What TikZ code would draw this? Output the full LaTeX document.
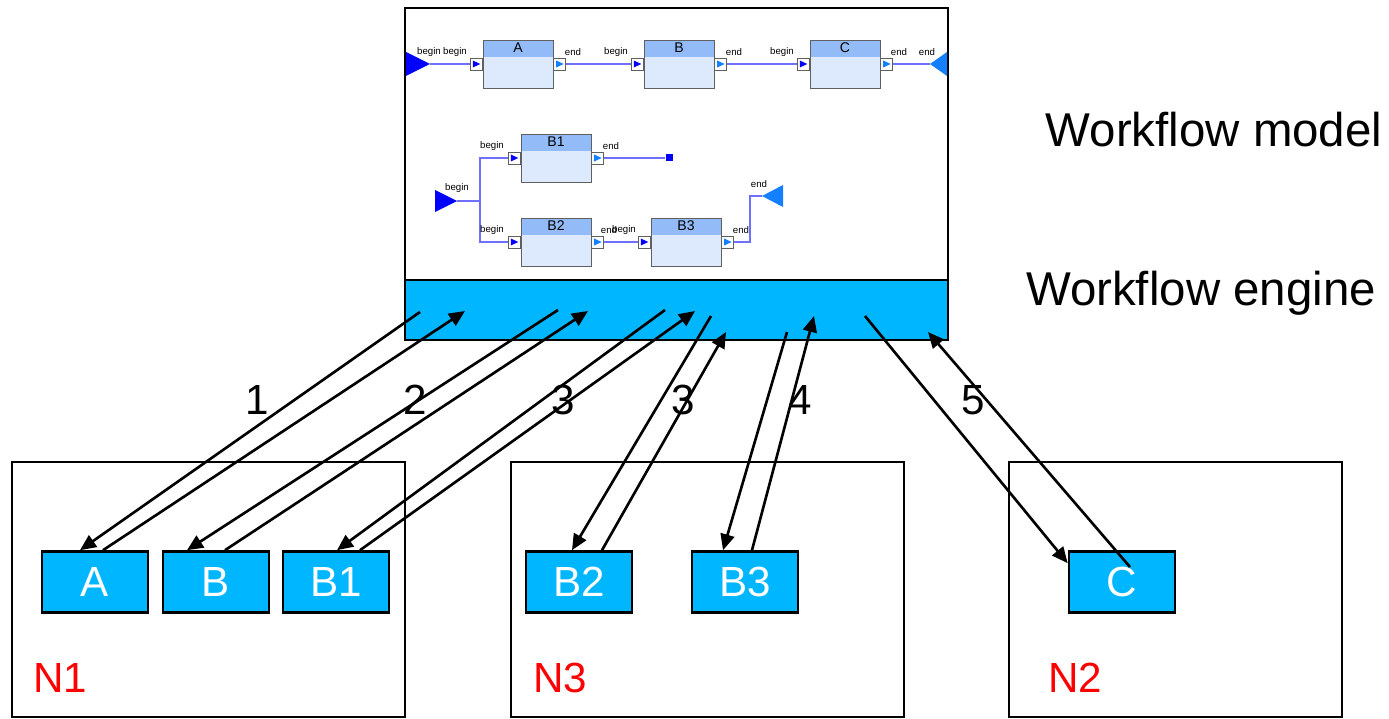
\documentclass[tikz,border=0pt]{standalone}
\usepackage{fontspec}
\setmainfont{Liberation Sans}
\usetikzlibrary{positioning, arrows.meta}

\definecolor{enginecyan}{RGB}{0,183,255}
\definecolor{hdrblue}{RGB}{147,187,247}
\definecolor{bodyblue}{RGB}{221,234,253}
\definecolor{portgray}{RGB}{96,96,96}
\definecolor{inblue}{RGB}{0,0,255}
\definecolor{outblue}{RGB}{20,128,255}
\definecolor{wireblue}{RGB}{112,112,255}

\tikzset{
  wfblock/.style={rectangle, draw=portgray, fill=bodyblue, minimum width=1.4cm,
    minimum height=0.96cm, inner sep=0pt,
    path picture={\fill[hdrblue] (path picture bounding box.north west)
      rectangle ([yshift=-0.34cm]path picture bounding box.north east);}},
  blocklbl/.style={font=\fontsize{8}{9}\selectfont, anchor=north, inner sep=1.6pt},
  inport/.style={rectangle, draw=portgray, fill=white, minimum size=0.24cm, inner sep=0pt,
    path picture={\fill[#1]
      ([xshift=-0.07cm,yshift=0.07cm]path picture bounding box.center) --
      ([xshift=-0.07cm,yshift=-0.07cm]path picture bounding box.center) --
      ([xshift=0.08cm]path picture bounding box.center) -- cycle;}},
  inport/.default=inblue,
  wire/.style={wireblue, line width=0.6pt},
  lbl/.style={font=\fontsize{5.5}{6}\selectfont, inner sep=0pt},
  taskbox/.style={rectangle, draw=black, line width=1.5pt, fill=enginecyan, text=white,
    minimum width=2.12cm, minimum height=1.22cm, font=\fontsize{24}{28}\selectfont},
  nodebox/.style={rectangle, draw=black, line width=1.2pt, minimum height=5.1cm},
  big/.style={font=\fontsize{27}{32}\selectfont},
  num/.style={font=\fontsize{24}{28}\selectfont},
  msg/.style={line width=1.5pt, -{Triangle[length=0.32cm,width=0.28cm]}}
}

\begin{document}
\begin{tikzpicture}[x=0.02cm, y=-0.02cm]
  \useasboundingbox (0,0) rectangle (1389,719);

  % Workflow model and engine
  \node[rectangle, draw=black, line width=1.6pt, minimum width=10.86cm, minimum height=5.44cm,
    inner sep=0pt] (model) at (676.5,144) {};
  \node[rectangle, draw=black, fill=enginecyan, line width=1.6pt, minimum width=10.86cm,
    minimum height=1.2cm, inner sep=0pt] (engine) at (676.5,310) {};

  \node[big] (modeltxt) at (1214,130) {Workflow model};
  \node[big] (enginetxt) at (1201,293) {Workflow engine};

  % first sequence
  \fill[inblue] (406,52) -- (430,64) -- (406,76) -- cycle;
  \coordinate (in1) at (430,64);
  \fill[outblue] (947,52) -- (930,64) -- (947,76) -- cycle;
  \coordinate (out1) at (930,64);

  \foreach \nm/\x/\y in {A/518/64, B/679/64, C/845/64, B1/556/158, B2/556/242, B3/686/242}{
    \node[wfblock, label={[blocklbl]north:\nm}] (\nm) at (\x,\y) {};
    \node[inport, left=0pt of \nm] (\nm-in) {};
    \node[inport=outblue, right=0pt of \nm] (\nm-out) {};
  }

  \draw[wire] (in1) -- (A-in);
  \draw[wire] (A-out) -- (B-in);
  \draw[wire] (B-out) -- (C-in);
  \draw[wire] (C-out) -- (out1);

  % second sequence
  \fill[inblue] (435,190) -- (457,201) -- (435,212) -- cycle;
  \coordinate (in2) at (457,201);
  \coordinate (split) at (480,201);
  \node[rectangle, fill=inblue, minimum size=0.14cm, inner sep=0pt] (stop) at (669,158) {};
  \fill[outblue] (783,185) -- (762,196) -- (783,207) -- cycle;
  \coordinate (out2) at (762,196);
  \coordinate (turn) at (750,196);

  \draw[wire] (in2) -- (split) |- (B1-in);
  \draw[wire] (split) |- (B2-in);
  \draw[wire] (B1-out) -- (stop);
  \draw[wire] (B2-out) -- (B3-in);
  \draw[wire] (B3-out) -| (turn) -- (out2);

  \foreach \x/\y/\t [count=\i] in {429/52/begin, 455/52/begin, 573/52/end, 616/52/begin,
      734/52/end, 782/52/begin, 899/52/end, 927/52/end, 492/146/begin, 611/146/end,
      457/188/begin, 492/230/begin, 609/230/end, 624/230/begin, 741/230/end, 759/184/end}
    \node[lbl] (lbl\i) at (\x,\y) {\t};

  % Nodes
  \node[nodebox, minimum width=7.86cm] (N1) at (208.5,589.5) {};
  \node[nodebox, minimum width=7.86cm] (N3) at (707.5,589.5) {};
  \node[nodebox, minimum width=6.66cm] (N2) at (1175.5,589.5) {};

  \node[num, text=red] (n1txt) at (60,678) {N1};
  \node[num, text=red] (n3txt) at (560,678) {N3};
  \node[num, text=red] (n2txt) at (1075,678) {N2};

  \node[taskbox] (tA) at (95,582) {A};
  \node[taskbox] (tB) at (216,582) {B};
  \node[taskbox] (tB1) at (336,582) {B1};
  \node[taskbox] (tB2) at (579,582) {B2};
  \node[taskbox] (tB3) at (745,582) {B3};
  \node[taskbox] (tC) at (1122,582) {C};

  % engine ends of the messages
  \coordinate (e1) at (420,312);  \coordinate (r1) at (465,311);
  \coordinate (e2) at (558,310);  \coordinate (r2) at (588,311);
  \coordinate (e3) at (665,310);  \coordinate (r3) at (695,311);
  \coordinate (e4) at (711,316);  \coordinate (r4) at (726,332);
  \coordinate (e5) at (787,332);  \coordinate (r5) at (814,316);
  \coordinate (e6) at (865,316);  \coordinate (r6) at (928,332);

  % Arrows
  \draw[msg] (e1) -- ([xshift=-0.3cm]tA.north);
  \draw[msg] ([xshift=0.16cm]tA.north) -- (r1);
  \draw[msg] (e2) -- ([xshift=-0.58cm]tB.north);
  \draw[msg] ([xshift=0.18cm]tB.north) -- (r2);
  \draw[msg] (e3) -- ([xshift=0.02cm]tB1.north);
  \draw[msg] ([xshift=0.48cm]tB1.north) -- (r3);
  \draw[msg] (e4) -- ([xshift=-0.14cm]tB2.north);
  \draw[msg] ([xshift=0.46cm]tB2.north) -- (r4);
  \draw[msg] (e5) -- ([xshift=-0.44cm]tB3.north);
  \draw[msg] ([xshift=0.14cm]tB3.north) -- (r5);
  \draw[msg] (e6) -- ([yshift=-0.26cm]tC.north west);
  \draw[msg] ([xshift=0.16cm,yshift=0.3cm]tC.center) -- (r6);

  \foreach \x/\t [count=\i] in {257/1, 415/2, 563/3, 683/3, 800/4, 973/5}
    \node[num] (step\i) at (\x,400) {\t};
\end{tikzpicture}
\end{document}
